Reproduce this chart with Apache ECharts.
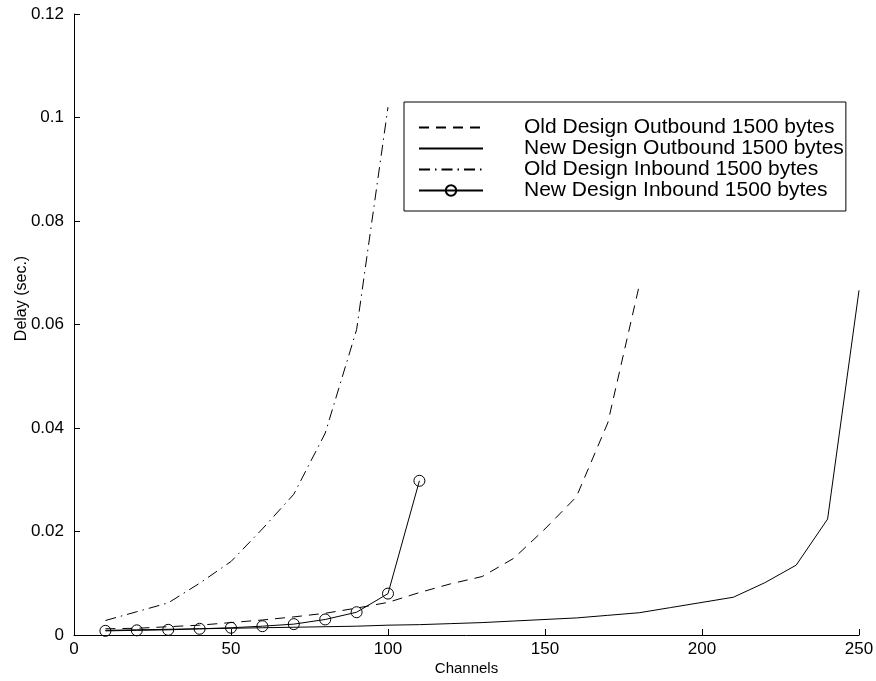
<!DOCTYPE html>
<html>
<head>
<meta charset="utf-8">
<script src="https://cdn.jsdelivr.net/npm/echarts@6/dist/echarts.min.js"></script>
<style>
  html, body { margin: 0; padding: 0; background: #fff; }
  #chart { width: 876px; height: 681px; }
</style>
</head>
<body>
<div id="chart"></div>
<script>
// channels (x) for each curve
var chOldOut = [10, 20, 30, 40, 50, 60, 70, 80, 90, 100, 110, 120, 130, 140, 150, 160, 170, 180];
var chNewOut = [10, 20, 30, 40, 50, 60, 70, 80, 90, 100, 110, 120, 130, 140, 150, 160, 170, 180, 190, 200, 210, 220, 230, 240, 250];
var chOldIn = [10, 20, 30, 40, 50, 60, 70, 80, 90, 100];
var chNewIn = [10, 20, 30, 40, 50, 60, 70, 80, 90, 100, 110];

// delay in seconds
var oldOutbound = [0.0012, 0.0013, 0.0016, 0.0019, 0.0024, 0.0029, 0.0035, 0.0042, 0.0052, 0.0063, 0.0082, 0.0099, 0.0113, 0.0148, 0.0205, 0.0267, 0.041, 0.0675];
var newOutbound = [0.0009, 0.001, 0.0011, 0.0012, 0.0013, 0.0014, 0.0015, 0.0016, 0.0017, 0.0019, 0.002, 0.0022, 0.0024, 0.0027, 0.003, 0.0033, 0.0038, 0.0043, 0.0053, 0.0063, 0.0073, 0.0101, 0.0135, 0.0224, 0.0666];
var oldInbound = [0.0028, 0.0045, 0.0062, 0.0100, 0.0142, 0.0205, 0.0272, 0.039, 0.059, 0.102];
var newInbound = [0.0008, 0.0009, 0.001, 0.0012, 0.0014, 0.0017, 0.0021, 0.003, 0.0044, 0.008, 0.0298];

var names = ['Old Design Outbound 1500 bytes', 'New Design Outbound 1500 bytes', 'Old Design Inbound 1500 bytes', 'New Design Inbound 1500 bytes'];

function pairs(xs, ys){
    var out = [];
    for (var i = 0; i < xs.length; i++) {
        out.push([xs[i], ys[i]]);
    }
    return out;
}

var font = '"Liberation Sans", Arial, Helvetica, sans-serif';
// hide the marker in legend icons of curves that have none
var noMark = { color: 'rgba(0,0,0,0)', borderWidth: 0 };

var option = {
    animation: false,
    backgroundColor: '#fff',
    grid: { left: 74, right: 17, top: 14, bottom: 46, containLabel: false, outerBoundsMode: 'none' },
    legend: {
        data: [
            { name: names[0], itemStyle: noMark },
            { name: names[1], itemStyle: noMark },
            { name: names[2], itemStyle: noMark },
            { name: names[3] }
        ],
        orient: 'vertical',
        left: 404,
        top: 102,
        padding: [15, 2, 10, 14],
        borderColor: '#000',
        borderWidth: 1,
        backgroundColor: '#fff',
        itemWidth: 64,
        itemHeight: 13,
        itemGap: 0,
        textStyle: { fontFamily: font, fontSize: 21, lineHeight: 20, color: '#000', padding: [0, 0, 0, 36] }
    },
    xAxis: {
        type: 'value',
        min: 0, max: 250, interval: 50,
        name: 'Channels',
        nameLocation: 'middle',
        nameGap: 26,
        nameMoveOverlap: false,
        nameTextStyle: { fontFamily: font, fontSize: 15, color: '#000' },
        axisLine: { lineStyle: { color: '#000', width: 1 } },
        axisTick: { inside: true, length: 6, lineStyle: { color: '#000' } },
        axisLabel: { fontFamily: font, fontSize: 17, color: '#000', margin: 6 },
        splitLine: { show: false }
    },
    yAxis: {
        type: 'value',
        min: 0, max: 0.12, interval: 0.02,
        name: 'Delay (sec.)',
        nameLocation: 'middle',
        nameRotate: 90,
        nameGap: 44,
        nameMoveOverlap: false,
        nameTextStyle: { fontFamily: font, fontSize: 16, color: '#000', padding: [0, 0, 0, 52] },
        axisLine: { show: true, lineStyle: { color: '#000', width: 1 } },
        axisTick: { show: true, inside: true, length: 6, lineStyle: { color: '#000' } },
        axisLabel: { fontFamily: font, fontSize: 17, color: '#000', margin: 10 },
        splitLine: { show: false }
    },
    series: [
        {
            name: names[0], type: 'line', symbol: 'none',
            lineStyle: { color: '#000', width: 1, type: [10, 7] },
            itemStyle: { color: '#000' },
            data: pairs(chOldOut, oldOutbound)
        },
        {
            name: names[1], type: 'line', symbol: 'none',
            lineStyle: { color: '#000', width: 1, type: 'solid' },
            itemStyle: { color: '#000' },
            data: pairs(chNewOut, newOutbound)
        },
        {
            name: names[2], type: 'line', symbol: 'none',
            lineStyle: { color: '#000', width: 1, type: [11, 5, 1.5, 5] },
            itemStyle: { color: '#000' },
            data: pairs(chOldIn, oldInbound)
        },
        {
            name: names[3], type: 'line', symbol: 'circle', symbolSize: 11,
            lineStyle: { color: '#000', width: 1, type: 'solid' },
            itemStyle: { color: 'rgba(255,255,255,0)', borderColor: '#000', borderWidth: 1 },
            data: pairs(chNewIn, newInbound)
        }
    ]
};

var chart = echarts.init(document.getElementById('chart'));
chart.setOption(option);
</script>
</body>
</html>
